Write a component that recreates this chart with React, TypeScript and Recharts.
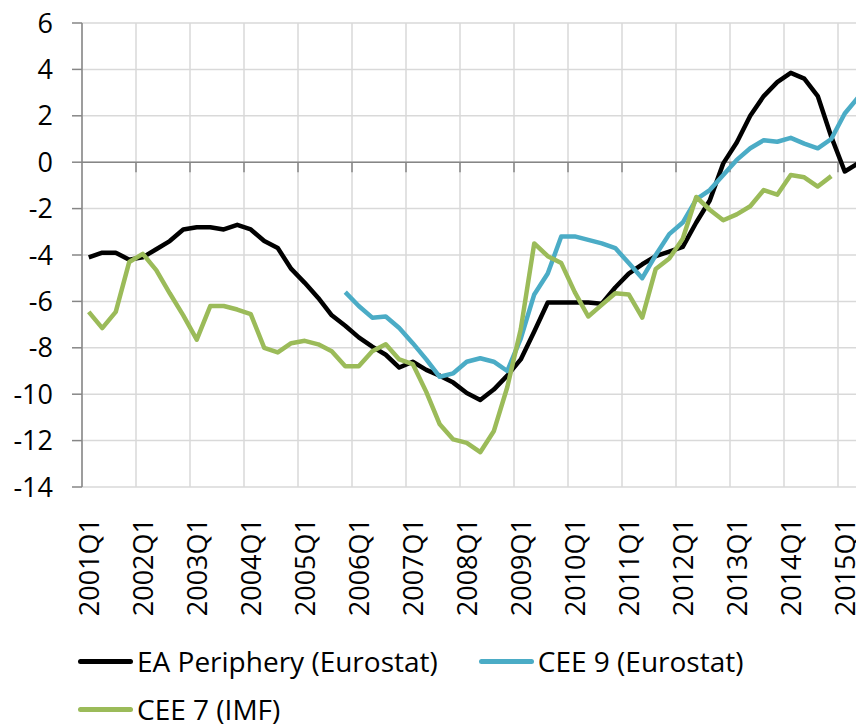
import React from "react";
import {
  LineChart,
  Line,
  XAxis,
  YAxis,
  CartesianGrid,
  ReferenceLine,
  Legend,
} from "recharts";

// 2001Q1 .. 2015Q2
const quarters: string[] = [];
for (let y = 2001; y <= 2015; y++) {
  for (let q = 1; q <= 4; q++) {
    if (y === 2015 && q > 2) break;
    quarters.push(`${y}Q${q}`);
  }
}

const eaPeriphery = [
  -4.1, -3.9, -3.9, -4.2, -4.1, -3.75, -3.4, -2.9, -2.8, -2.8, -2.9, -2.7,
  -2.9, -3.4, -3.7, -4.6, -5.2, -5.85, -6.6, -7.05, -7.55, -7.95, -8.3, -8.85,
  -8.6, -8.95, -9.2, -9.5, -9.95, -10.25, -9.8, -9.2, -8.5, -7.3, -6.05, -6.05,
  -6.05, -6.05, -6.1, -5.4, -4.8, -4.4, -4.05, -3.85, -3.65, -2.6, -1.65, -0.05,
  0.85, 2.0, 2.85, 3.45, 3.85, 3.6, 2.85, 1.1, -0.4, -0.05,
];

const cee9 = [
  null, null, null, null, null, null, null, null, null, null, null, null,
  null, null, null, null, null, null, null, -5.6, -6.2, -6.7, -6.65, -7.15,
  -7.8, -8.5, -9.25, -9.1, -8.6, -8.45, -8.6, -9.0, -7.6, -5.7, -4.8, -3.2,
  -3.2, -3.35, -3.5, -3.7, -4.35, -5.0, -4.0, -3.1, -2.6, -1.6, -1.2, -0.55,
  0.1, 0.6, 0.95, 0.88, 1.05, 0.8, 0.6, 1.0, 2.1, 2.8,
];

const cee7 = [
  -6.45, -7.15, -6.45, -4.3, -3.95, -4.65, -5.65, -6.6, -7.65, -6.2, -6.2, -6.35,
  -6.55, -8.0, -8.2, -7.8, -7.7, -7.85, -8.15, -8.8, -8.8, -8.15, -7.85, -8.5,
  -8.7, -9.9, -11.3, -11.95, -12.1, -12.5, -11.6, -9.7, -7.2, -3.5, -4.05, -4.35,
  -5.6, -6.65, -6.15, -5.65, -5.7, -6.7, -4.6, -4.15, -3.3, -1.5, -2.05, -2.5,
  -2.25, -1.9, -1.2, -1.4, -0.55, -0.65, -1.05, -0.6, null, null,
];

const seriesNames = ["EA Periphery (Eurostat)", "CEE 9 (Eurostat)", "CEE 7 (IMF)"];
const yTicks = [-14, -12, -10, -8, -6, -4, -2, 0, 2, 4, 6];
// label every 4th quarter (Q1), gridlines on the year boundaries
const labelTicks = quarters.map((_, i) => i).filter((i) => i % 4 === 0);
const yearBounds = labelTicks.map((i) => i - 0.5);

const data = quarters.map((q, i) => ({
  idx: i,
  quarter: q,
  ea: eaPeriphery[i],
  cee9: cee9[i],
  cee7: cee7[i],
}));

const FONT = "'Open Sans', sans-serif";
const AXIS_GREY = "#868686";

function QuarterTick(props: any) {
  const { x, y, payload } = props;
  return (
    <text
      x={x}
      y={y}
      transform={`rotate(-90, ${x}, ${y})`}
      textAnchor="end"
      dominantBaseline="central"
      fontFamily={FONT}
      fontSize={27}
      fill="#000"
    >
      {quarters[payload.value]}
    </text>
  );
}

function LegendBox(props: any) {
  const payload = [...(props.payload || [])].sort(
    (a: any, b: any) => seriesNames.indexOf(a.value) - seriesNames.indexOf(b.value)
  );
  return (
    <div
      style={{
        display: "flex",
        flexWrap: "wrap",
        rowGap: 20,
        width: 720,
        fontFamily: FONT,
        fontSize: 28,
        color: "#000",
      }}
    >
      {payload.map((p: any) => (
        <div
          key={p.value}
          style={{
            display: "flex",
            alignItems: "center",
            height: 28,
            marginRight: 41,
            whiteSpace: "nowrap",
          }}
        >
          <span
            style={{
              display: "inline-block",
              width: 55,
              height: 5,
              borderRadius: 3,
              background: p.color,
              marginRight: 4,
            }}
          />
          <span style={{ lineHeight: "28px" }}>{p.value}</span>
        </div>
      ))}
    </div>
  );
}

export default function App() {
  return (
    <div
      style={{
        position: "absolute",
        left: 0,
        top: 0,
        width: 856,
        height: 724,
        overflow: "hidden",
        background: "#fff",
      }}
    >
      <LineChart
        width={870}
        height={724}
        data={data}
        margin={{ top: 23, right: 5, bottom: 0, left: 0 }}
      >
        <CartesianGrid
          stroke="#D9D9D9"
          strokeWidth={1.5}
          verticalValues={yearBounds}
        />
        <XAxis
          type="number"
          dataKey="idx"
          domain={[-0.5, quarters.length - 0.5]}
          ticks={labelTicks}
          interval={0}
          allowDataOverflow
          height={237}
          axisLine={false}
          tickLine={false}
          tickSize={0}
          tickMargin={31}
          tick={<QuarterTick />}
        />
        <YAxis
          domain={[-14, 6]}
          ticks={yTicks}
          interval={0}
          width={82}
          axisLine={{ stroke: AXIS_GREY, strokeWidth: 1.5 }}
          tickLine={{ stroke: AXIS_GREY, strokeWidth: 1.5 }}
          tickSize={10}
          tickMargin={19}
          tick={{ fontFamily: FONT, fontSize: 27, fill: "#000" }}
        />
        <ReferenceLine y={0} stroke={AXIS_GREY} strokeWidth={1.5} />
        {yearBounds.slice(1).map((b) => (
          <ReferenceLine
            key={b}
            segment={[
              { x: b, y: 0 },
              { x: b, y: -0.43 },
            ]}
            stroke={AXIS_GREY}
            strokeWidth={1.5}
          />
        ))}
        <Line
          type="linear"
          dataKey="ea"
          name={seriesNames[0]}
          stroke="#000000"
          strokeWidth={4.5}
          strokeLinejoin="round"
          dot={false}
          isAnimationActive={false}
        />
        <Line
          type="linear"
          dataKey="cee9"
          name={seriesNames[1]}
          stroke="#4BACC6"
          strokeWidth={4.5}
          strokeLinejoin="round"
          dot={false}
          isAnimationActive={false}
        />
        <Line
          type="linear"
          dataKey="cee7"
          name={seriesNames[2]}
          stroke="#9BBB59"
          strokeWidth={4.5}
          strokeLinejoin="round"
          dot={false}
          isAnimationActive={false}
        />
        <Legend
          layout="horizontal"
          verticalAlign="middle"
          align="center"
          content={<LegendBox />}
          wrapperStyle={{ top: 647, left: 78, width: 720 }}
        />
      </LineChart>
    </div>
  );
}
